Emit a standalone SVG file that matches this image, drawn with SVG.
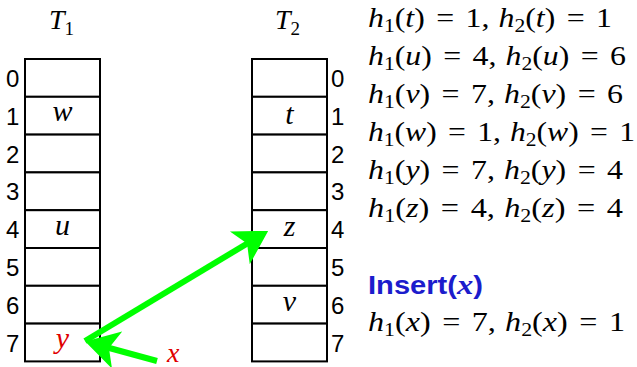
<svg xmlns="http://www.w3.org/2000/svg" width="637" height="367" viewBox="0 0 637 367">
<style>
.cell{fill:#fff;stroke:#000;stroke-width:2}
.idx{font-family:"Liberation Sans",Arial,sans-serif;font-size:24px;fill:#000}
.m{font-family:"Liberation Serif","Times New Roman",serif;font-style:italic;font-size:28px;fill:#000}
.c{font-size:30px}
.r{font-style:normal}
.sub{font-size:19px;font-style:normal}
.red{fill:#e00000}
.ins{font-family:"Liberation Sans",Arial,sans-serif;font-weight:bold;font-size:25px;fill:#1c1ccc}
.arr{fill:none;stroke:#00ff00;stroke-width:6}
</style>
<defs>
<marker id="ah" markerWidth="7" markerHeight="7" refX="4.5" refY="3.5" orient="auto" markerUnits="strokeWidth">
<path d="M0,0.3 L5.5,3.5 L0,6.7 L1.4,3.5 Z" fill="#00ff00"/>
</marker>
</defs>
<g id="T1">
<text class="m" x="49" y="29">T<tspan class="sub" dy="6">1</tspan></text>
<rect class="cell" x="25" y="59" width="75" height="37.8"/>
<rect class="cell" x="25" y="96.8" width="75" height="37.8"/>
<rect class="cell" x="25" y="134.6" width="75" height="37.8"/>
<rect class="cell" x="25" y="172.4" width="75" height="37.8"/>
<rect class="cell" x="25" y="210.2" width="75" height="37.8"/>
<rect class="cell" x="25" y="248" width="75" height="37.8"/>
<rect class="cell" x="25" y="285.8" width="75" height="37.8"/>
<rect class="cell" x="25" y="323.6" width="75" height="37.8"/>
<text class="idx" x="6" y="87">0</text>
<text class="idx" x="6" y="125">1</text>
<text class="idx" x="6" y="163">2</text>
<text class="idx" x="6" y="200">3</text>
<text class="idx" x="6" y="238">4</text>
<text class="idx" x="6" y="276">5</text>
<text class="idx" x="6" y="314">6</text>
<text class="idx" x="6" y="352">7</text>
<text class="m c" x="62.5" y="121" text-anchor="middle">w</text>
<text class="m c" x="62.5" y="235" text-anchor="middle">u</text>
<text class="m c red" x="62.5" y="348" text-anchor="middle">y</text>
</g>
<g id="T2">
<text class="m" x="275" y="29">T<tspan class="sub" dy="6">2</tspan></text>
<rect class="cell" x="252" y="59" width="75" height="37.8"/>
<rect class="cell" x="252" y="96.8" width="75" height="37.8"/>
<rect class="cell" x="252" y="134.6" width="75" height="37.8"/>
<rect class="cell" x="252" y="172.4" width="75" height="37.8"/>
<rect class="cell" x="252" y="210.2" width="75" height="37.8"/>
<rect class="cell" x="252" y="248" width="75" height="37.8"/>
<rect class="cell" x="252" y="285.8" width="75" height="37.8"/>
<rect class="cell" x="252" y="323.6" width="75" height="37.8"/>
<text class="idx" x="331" y="87">0</text>
<text class="idx" x="331" y="125">1</text>
<text class="idx" x="331" y="163">2</text>
<text class="idx" x="331" y="200">3</text>
<text class="idx" x="331" y="238">4</text>
<text class="idx" x="331" y="276">5</text>
<text class="idx" x="331" y="314">6</text>
<text class="idx" x="331" y="352">7</text>
<text class="m c" x="289.5" y="124" text-anchor="middle">t</text>
<text class="m c" x="289.5" y="236" text-anchor="middle">z</text>
<text class="m c" x="289.5" y="311" text-anchor="middle">v</text>
</g>
<g id="connectors">
<line class="arr" x1="157" y1="361" x2="91" y2="343" marker-end="url(#ah)"/>
<line class="arr" x1="85" y1="341" x2="263" y2="234" marker-end="url(#ah)"/>
</g>
<text class="m red" x="167" y="362">x</text>
<g id="hashes">
<text class="m" x="368" y="27" textLength="244" lengthAdjust="spacingAndGlyphs">h<tspan class="sub" dy="5">1</tspan><tspan class="r" dy="-5">(</tspan>t<tspan class="r">)</tspan><tspan class="r" dx="10">=</tspan><tspan class="r" dx="10">1,</tspan><tspan dx="8">h</tspan><tspan class="sub" dy="5">2</tspan><tspan class="r" dy="-5">(</tspan>t<tspan class="r">)</tspan><tspan class="r" dx="10">=</tspan><tspan class="r" dx="10">1</tspan></text>
<text class="m" x="368" y="65" textLength="258" lengthAdjust="spacingAndGlyphs">h<tspan class="sub" dy="5">1</tspan><tspan class="r" dy="-5">(</tspan>u<tspan class="r">)</tspan><tspan class="r" dx="10">=</tspan><tspan class="r" dx="10">4,</tspan><tspan dx="8">h</tspan><tspan class="sub" dy="5">2</tspan><tspan class="r" dy="-5">(</tspan>u<tspan class="r">)</tspan><tspan class="r" dx="10">=</tspan><tspan class="r" dx="10">6</tspan></text>
<text class="m" x="368" y="103" textLength="255" lengthAdjust="spacingAndGlyphs">h<tspan class="sub" dy="5">1</tspan><tspan class="r" dy="-5">(</tspan>v<tspan class="r">)</tspan><tspan class="r" dx="10">=</tspan><tspan class="r" dx="10">7,</tspan><tspan dx="8">h</tspan><tspan class="sub" dy="5">2</tspan><tspan class="r" dy="-5">(</tspan>v<tspan class="r">)</tspan><tspan class="r" dx="10">=</tspan><tspan class="r" dx="10">6</tspan></text>
<text class="m" x="368" y="141" textLength="267" lengthAdjust="spacingAndGlyphs">h<tspan class="sub" dy="5">1</tspan><tspan class="r" dy="-5">(</tspan>w<tspan class="r">)</tspan><tspan class="r" dx="10">=</tspan><tspan class="r" dx="10">1,</tspan><tspan dx="8">h</tspan><tspan class="sub" dy="5">2</tspan><tspan class="r" dy="-5">(</tspan>w<tspan class="r">)</tspan><tspan class="r" dx="10">=</tspan><tspan class="r" dx="10">1</tspan></text>
<text class="m" x="368" y="179" textLength="255" lengthAdjust="spacingAndGlyphs">h<tspan class="sub" dy="5">1</tspan><tspan class="r" dy="-5">(</tspan>y<tspan class="r">)</tspan><tspan class="r" dx="10">=</tspan><tspan class="r" dx="10">7,</tspan><tspan dx="8">h</tspan><tspan class="sub" dy="5">2</tspan><tspan class="r" dy="-5">(</tspan>y<tspan class="r">)</tspan><tspan class="r" dx="10">=</tspan><tspan class="r" dx="10">4</tspan></text>
<text class="m" x="368" y="217" textLength="255" lengthAdjust="spacingAndGlyphs">h<tspan class="sub" dy="5">1</tspan><tspan class="r" dy="-5">(</tspan>z<tspan class="r">)</tspan><tspan class="r" dx="10">=</tspan><tspan class="r" dx="10">4,</tspan><tspan dx="8">h</tspan><tspan class="sub" dy="5">2</tspan><tspan class="r" dy="-5">(</tspan>z<tspan class="r">)</tspan><tspan class="r" dx="10">=</tspan><tspan class="r" dx="10">4</tspan></text>
<text class="ins" x="368" y="294" textLength="115" lengthAdjust="spacingAndGlyphs">Insert(<tspan font-family="Liberation Serif,serif" font-style="italic" font-size="28px">x</tspan>)</text>
<text class="m" x="368" y="331" textLength="257" lengthAdjust="spacingAndGlyphs">h<tspan class="sub" dy="5">1</tspan><tspan class="r" dy="-5">(</tspan>x<tspan class="r">)</tspan><tspan class="r" dx="10">=</tspan><tspan class="r" dx="10">7,</tspan><tspan dx="8">h</tspan><tspan class="sub" dy="5">2</tspan><tspan class="r" dy="-5">(</tspan>x<tspan class="r">)</tspan><tspan class="r" dx="10">=</tspan><tspan class="r" dx="10">1</tspan></text>
</g>
</svg>
